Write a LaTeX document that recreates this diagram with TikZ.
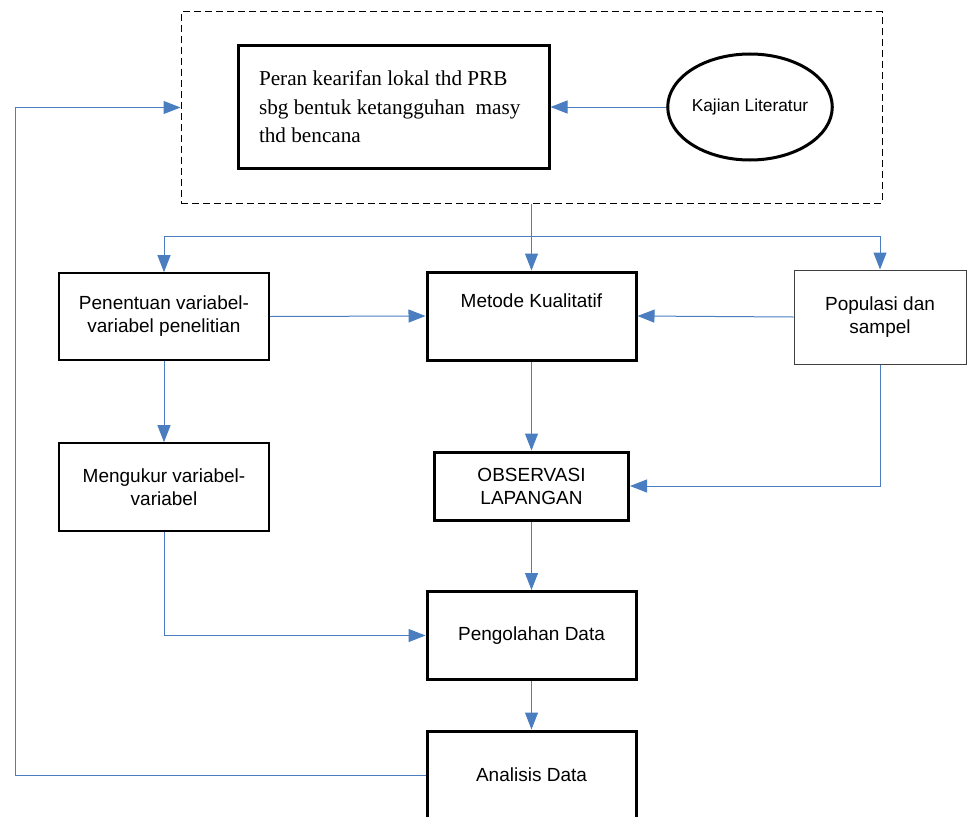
\documentclass[tikz,border=0pt]{standalone}
\usepackage{fontspec}
\setmainfont{Liberation Sans}
\newfontfamily\timesf{Liberation Serif}
\usetikzlibrary{arrows.meta,shapes.geometric}
\definecolor{arrblue}{RGB}{74,126,193}
\tikzset{
  arr/.style={draw=arrblue, line width=1pt, -{Triangle[length=17pt,width=13pt]}},
  thickbox/.style={draw=black, line width=3pt, rectangle, inner sep=0pt, align=center,
     font=\fontsize{19}{23}\selectfont},
  thinbox/.style={draw=black, line width=1.6pt, rectangle, inner sep=0pt, align=center,
     font=\fontsize{19}{23}\selectfont},
  greybox/.style={draw=black!75, line width=1pt, rectangle, inner sep=0pt, align=center,
     font=\fontsize{19}{23}\selectfont},
}
\begin{document}
\begin{tikzpicture}[x=1pt,y=-1pt]
\useasboundingbox (0,0) rectangle (968,816);
\clip (0,0) rectangle (968,816);
% dashed frame
\node[draw=black, line width=1pt, dash pattern=on 7pt off 4pt, rectangle, inner sep=0pt,
  minimum width=701pt, minimum height=191pt] (frame) at (531.5,107.5) {};
% main box
\node[draw=black, line width=3pt, rectangle, inner xsep=21pt, inner ysep=0pt,
  text width=269pt, align=flush left, minimum height=122pt,
  font=\timesf\fontsize{21.2}{28.5}\selectfont] (peran) at (393.5,107) {Peran kearifan lokal thd PRB\\ sbg bentuk ketangguhan\ \ masy\\ thd bencana};
% ellipse
\node[draw=black, line width=3pt, ellipse, inner sep=0pt, minimum width=158pt, minimum height=106pt,
  font=\fontsize{17.3}{20}\selectfont] (kaj) at (750,107) {Kajian Literatur};
% second row
\node[thinbox, minimum width=210pt, minimum height=87pt] (pen) at (164,316.5) {Penentuan variabel-\\variabel penelitian};
\node[thickbox, minimum width=209pt, minimum height=88pt] (met) at (531.5,316) {Metode Kualitatif\\ \strut};
\node[greybox, minimum width=172pt, minimum height=94pt] (pop) at (880,317) {Populasi dan\\sampel};
% third row
\node[thinbox, minimum width=210pt, minimum height=88pt] (men) at (164,487) {Mengukur variabel-\\variabel};
\node[thickbox, minimum width=194pt, minimum height=68pt] (obs) at (531.5,486) {OBSERVASI\\LAPANGAN};
% lower boxes
\node[thickbox, minimum width=209pt, minimum height=88pt] (peng) at (531.5,635.5) {Pengolahan Data};
\node[thickbox, minimum width=209pt, minimum height=88pt] (ana) at (531.5,775) {Analisis Data};
% connectors
\coordinate (br) at (531.5,236);
\coordinate (fbx) at (15,107.5);
\draw[arr] (kaj.west) -- (peran.east);
\draw[arr] (frame.south) -- (met.north);
\draw[arr] (br) -| (pen.north);
\draw[arr] (br) -| (pop.north);
\draw[arr] (pen.east) -- (met.west);
\draw[arr] (pop.west) -- (met.east);
\draw[arr] (pen.south) -- (men.north);
\draw[arr] (met.south) -- (obs.north);
\draw[arr] (pop.south) |- (obs.east);
\draw[arr] (obs.south) -- (peng.north);
\draw[arr] (men.south) |- (peng.west);
\draw[arr] (peng.south) -- (ana.north);
\draw[arr] (ana.west) -| (fbx) -- (frame.west);
\end{tikzpicture}
\end{document}
